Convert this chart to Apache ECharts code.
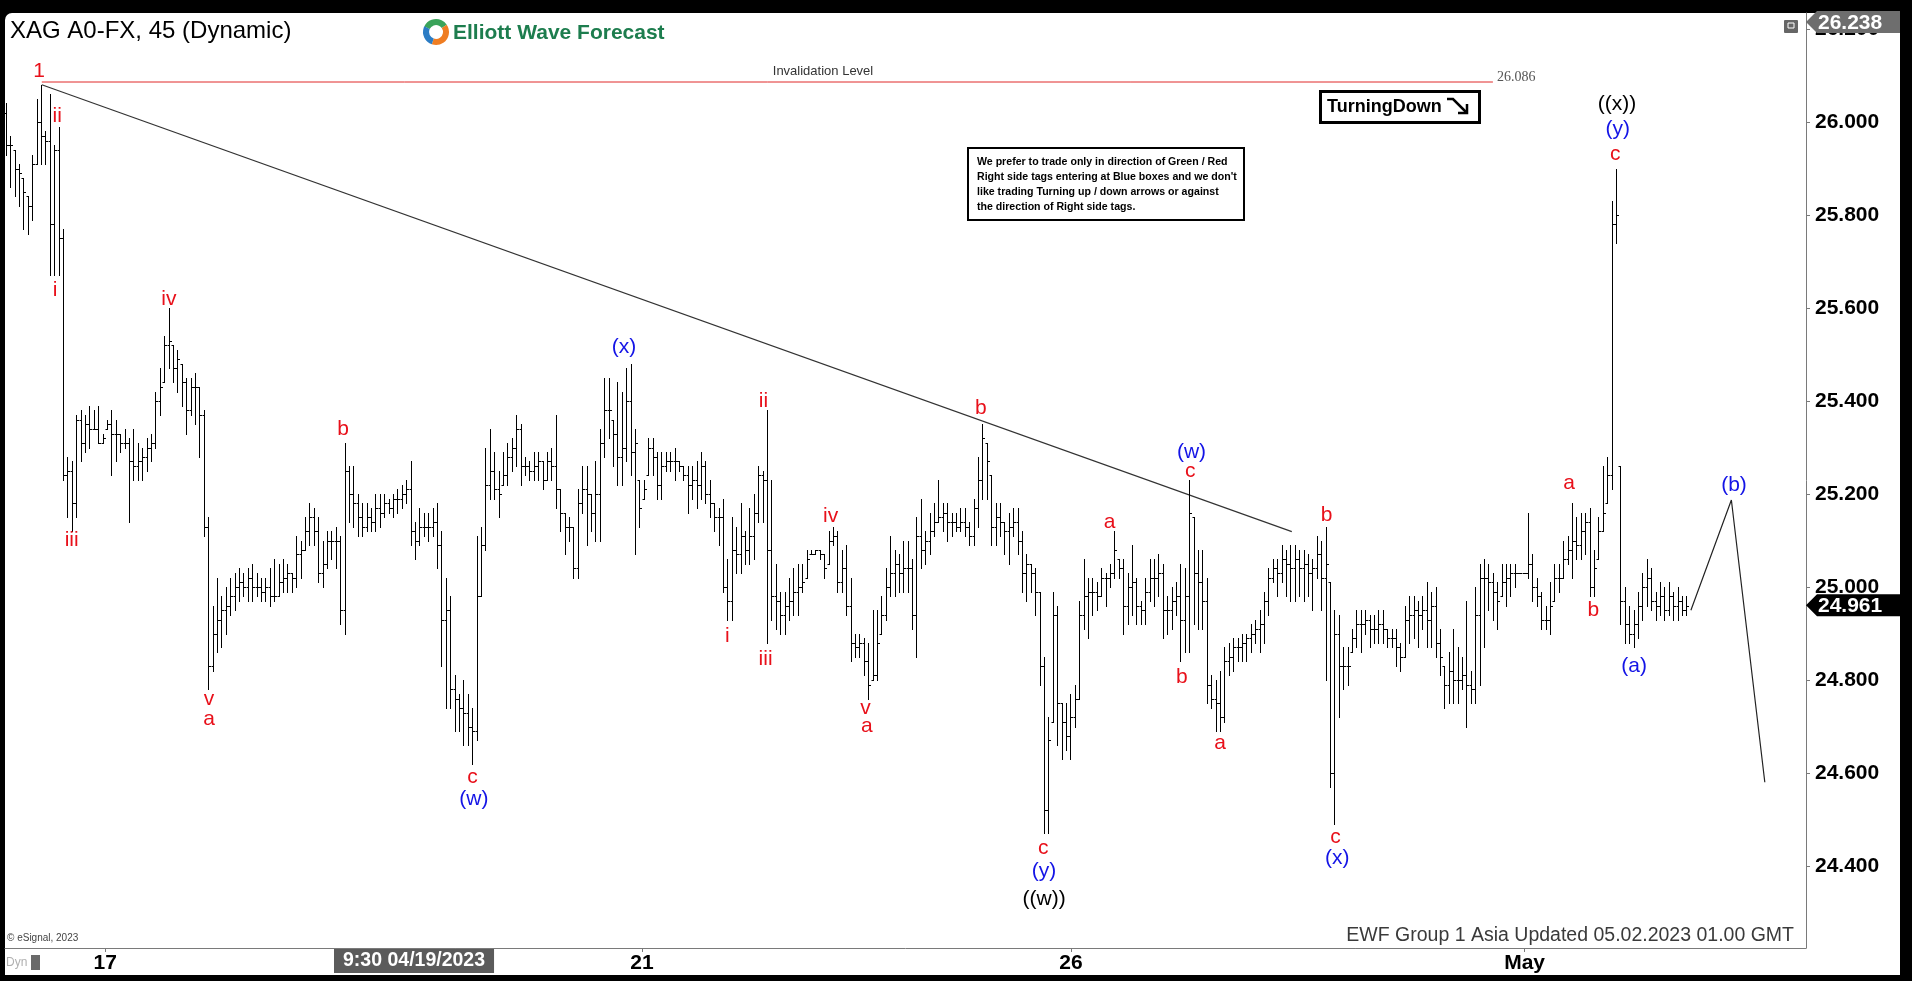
<!DOCTYPE html>
<html><head><meta charset="utf-8">
<script src="https://cdn.jsdelivr.net/npm/echarts@6/dist/echarts.min.js"></script>
<style>html,body{margin:0;padding:0;background:#000;overflow:hidden}#c{width:1912px;height:981px}</style>
</head><body><div id="c"></div>
<script>
// ---- 45-minute OHLC bars (index 0..382) ----
const opens = [
26.02,25.95,25.94,25.90,25.88,25.84,25.82,25.91,26.00,25.97,
25.96,25.78,25.94,25.75,25.24,25.25,25.18,25.36,25.31,25.35,
25.34,25.34,25.31,25.34,25.35,25.33,25.33,25.31,25.31,25.27,
25.26,25.27,25.28,25.30,25.31,25.40,25.44,25.52,25.52,25.47,
25.48,25.44,25.38,25.43,25.43,25.37,25.13,
24.83,24.90,24.93,24.95,24.96,24.98,25.00,25.01,25.00,
25.02,25.00,25.00,24.99,25.00,24.98,24.98,25.01,25.02,25.03,
25.02,25.07,25.08,25.12,25.15,25.12,25.03,25.05,25.10,25.10,
25.10,24.95,25.25,25.20,25.18,25.15,25.13,25.15,25.14,25.17,
25.16,25.18,25.17,25.19,25.19,25.20,25.21,25.12,25.10,25.13,
25.13,25.13,25.14,25.09,24.93,24.95,24.78,24.76,24.74,24.73,
24.70,24.69,24.98,25.09,25.22,25.25,25.21,25.22,25.24,25.28,
25.30,25.34,25.26,25.26,25.25,25.26,25.27,25.23,25.27,25.26,
25.21,25.16,25.13,25.13,25.04,25.18,25.21,25.20,25.16,25.20,
25.31,25.38,25.36,25.33,25.28,25.30,25.40,25.29,25.23,25.19,
25.24,25.30,25.28,25.22,25.26,25.27,25.27,25.27,25.26,25.24,
25.22,25.23,25.22,25.26,25.20,25.18,25.15,25.15,25.00,24.97,
25.08,25.07,25.11,25.08,
25.11,25.16,25.24,25.23,25.08,24.98,24.97,24.94,24.96,24.97,
24.99,25.00,25.02,25.07,25.07,25.08,25.07,25.05,25.10,25.11,
25.01,25.04,24.96,24.88,24.87,24.88,24.84,24.80,24.81,24.90,
24.94,25.00,25.03,25.05,25.03,25.04,25.04,24.94,25.11,25.08,
25.10,25.12,25.14,25.15,25.16,25.14,25.14,25.13,
25.14,25.13,25.11,25.17,25.23,25.31,25.24,25.13,25.15,25.14,
25.12,25.13,25.14,25.10,25.03,25.05,25.03,24.99,24.83,24.52,
24.71,24.94,24.75,24.71,24.68,24.72,24.76,24.94,24.98,24.99,
24.99,24.98,25.02,25.02,25.03,25.06,25.04,24.96,25.00,25.01,
24.96,24.95,24.99,25.02,25.02,25.03,24.95,24.95,24.97,
24.98,24.93,24.98,25.15,25.03,25.01,24.97,24.79,24.76,24.75,
24.72,24.84,24.85,24.87,24.87,24.88,24.89,24.90,24.91,24.92,
24.97,25.02,25.04,25.03,25.06,25.05,25.04,25.06,25.04,25.05,
25.03,25.04,25.07,25.02,25.01,24.60,24.90,24.83,24.83,24.86,
24.89,24.92,24.92,24.93,24.91,24.91,24.92,24.91,24.89,24.89,
24.87,24.85,24.93,24.94,24.95,24.94,24.95,24.93,24.96,24.88,
24.83,24.79,24.82,24.80,24.80,24.81,24.79,24.78,24.94,25.02,
25.02,25.01,24.99,24.98,25.01,25.02,25.03,25.03,25.03,25.03,
25.05,25.00,24.98,24.93,24.93,24.97,25.02,25.02,25.06,25.08,
25.10,25.09,25.12,25.14,25.00,25.06,25.12,25.18,25.24,25.78,
25.26,24.97,24.92,24.90,24.92,24.96,25.00,25.02,24.97,24.96,24.98,24.95,24.98,24.96,24.97,24.95
];
const highs = [
26.04,25.97,25.94,25.91,25.88,25.84,25.93,26.05,26.08,25.98,
26.06,25.95,25.99,25.77,25.28,25.27,25.37,25.38,25.37,25.39,
25.38,25.39,25.33,25.36,25.38,25.36,25.33,25.34,25.32,25.34,
25.31,25.30,25.32,25.33,25.42,25.47,25.54,25.60,25.52,25.51,
25.48,25.45,25.45,25.46,25.43,25.38,25.15,
24.96,25.02,24.98,25.00,25.02,25.03,25.04,25.03,25.04,
25.05,25.03,25.02,25.02,25.04,25.06,25.05,25.06,25.05,25.03,
25.11,25.10,25.15,25.18,25.17,25.15,25.10,25.12,25.12,25.13,
25.11,25.31,25.26,25.26,25.20,25.18,25.18,25.17,25.20,25.20,
25.20,25.19,25.20,25.21,25.22,25.23,25.27,25.14,25.17,25.16,
25.16,25.17,25.18,25.12,25.02,24.98,24.81,24.77,24.80,24.77,
24.74,25.11,25.13,25.30,25.34,25.29,25.25,25.29,25.31,25.32,
25.37,25.35,25.28,25.27,25.29,25.29,25.27,25.29,25.30,25.37,
25.21,25.16,25.15,25.13,25.21,25.26,25.26,25.20,25.27,25.34,
25.45,25.45,25.36,25.44,25.42,25.47,25.48,25.34,25.23,25.23,
25.32,25.32,25.29,25.29,25.29,25.29,25.30,25.27,25.26,25.26,
25.26,25.27,25.29,25.27,25.23,25.18,25.17,25.19,25.06,25.15,
25.13,25.18,25.12,25.17,
25.20,25.26,25.25,25.38,25.23,25.05,24.99,24.99,25.02,25.04,
25.05,25.05,25.08,25.08,25.08,25.08,25.07,25.12,25.13,25.12,
25.08,25.09,25.02,24.90,24.90,24.89,24.88,24.95,24.95,24.98,
25.04,25.11,25.08,25.07,25.10,25.10,25.06,25.15,25.19,25.12,
25.16,25.18,25.23,25.18,25.18,25.16,25.16,25.17,
25.17,25.14,25.19,25.28,25.35,25.31,25.24,25.18,25.18,25.14,
25.16,25.17,25.17,25.12,25.07,25.05,25.04,24.99,24.85,24.72,
24.99,24.96,24.75,24.75,24.77,24.79,24.97,25.06,25.02,25.02,
25.01,25.04,25.03,25.05,25.12,25.06,25.06,25.03,25.09,25.02,
24.97,25.02,25.06,25.06,25.07,25.05,24.98,25.00,25.01,
25.05,25.04,25.23,25.15,25.08,25.08,25.02,24.81,24.80,24.82,
24.87,24.88,24.89,24.89,24.90,24.90,24.92,24.93,24.95,24.99,
25.04,25.06,25.06,25.09,25.08,25.09,25.09,25.08,25.08,25.07,
25.06,25.11,25.10,25.13,25.01,24.95,24.94,24.87,24.87,24.91,
24.95,24.95,24.95,24.94,24.94,24.95,24.95,24.91,24.91,24.91,
24.88,24.96,24.98,24.98,24.97,24.98,25.01,24.99,25.00,24.91,
24.83,24.86,24.91,24.87,24.85,24.97,24.82,25.00,25.05,25.06,
25.05,25.03,25.01,25.05,25.05,25.05,25.05,25.03,25.03,25.16,
25.07,25.02,24.99,24.96,25.01,25.05,25.05,25.10,25.11,25.18,
25.15,25.16,25.16,25.17,25.08,25.15,25.26,25.28,25.83,25.90,
25.26,25.00,24.96,24.95,24.99,25.03,25.06,25.04,24.99,25.01,25.00,25.01,24.99,25.00,24.98,24.98
];
const lows = [
25.93,25.86,25.84,25.82,25.77,25.76,25.79,25.91,25.91,25.91,
25.67,25.67,25.67,25.23,25.15,25.12,25.15,25.27,25.29,25.30,
25.34,25.31,25.31,25.34,25.24,25.27,25.29,25.30,25.14,25.23,
25.23,25.23,25.25,25.27,25.30,25.37,25.44,25.47,25.44,25.42,
25.39,25.33,25.37,25.35,25.28,25.11,24.78,
24.82,24.86,24.87,24.90,24.94,24.95,24.97,24.98,24.97,
24.97,24.98,24.97,24.97,24.96,24.97,24.98,24.99,24.99,24.99,
25.00,25.02,25.08,25.09,25.09,25.01,25.00,25.04,25.06,25.04,
24.92,24.90,25.14,25.13,25.11,25.11,25.12,25.12,25.12,25.13,
25.15,25.16,25.15,25.16,25.17,25.18,25.09,25.06,25.09,25.11,
25.10,25.11,25.04,24.83,24.74,24.74,24.69,24.69,24.66,24.66,
24.62,24.67,24.98,25.08,25.19,25.19,25.15,25.22,25.22,25.25,
25.26,25.22,25.24,25.23,25.23,25.23,25.21,25.23,25.23,25.17,
25.12,25.07,25.10,25.02,25.02,25.16,25.09,25.12,25.10,25.10,
25.28,25.32,25.26,25.22,25.22,25.27,25.24,25.07,25.13,25.19,
25.24,25.24,25.19,25.19,25.25,25.25,25.23,25.25,25.23,25.16,
25.19,25.17,25.19,25.18,25.15,25.12,25.09,24.99,24.93,24.93,
25.03,25.03,25.05,25.05,
25.06,25.14,25.14,24.88,24.93,24.91,24.90,24.90,24.93,24.94,
24.94,24.99,25.02,25.07,25.07,25.06,25.02,25.05,25.09,24.99,
24.99,24.94,24.84,24.85,24.85,24.81,24.76,24.80,24.80,24.90,
24.93,24.98,24.98,24.99,24.99,24.99,24.91,24.85,25.04,25.05,
25.07,25.11,25.14,25.12,25.10,25.11,25.12,25.12,
25.11,25.09,25.09,25.13,25.19,25.19,25.09,25.09,25.11,25.07,
25.05,25.11,25.07,24.99,24.97,24.99,24.94,24.79,24.47,24.47,
24.71,24.66,24.63,24.65,24.63,24.70,24.76,24.91,24.89,24.94,
24.95,24.98,24.96,25.00,25.02,25.02,24.90,24.92,24.94,24.92,
24.92,24.92,24.97,24.96,24.98,24.89,24.90,24.91,24.94,
24.84,24.86,24.86,24.92,24.91,24.91,24.75,24.74,24.69,24.69,
24.71,24.81,24.82,24.84,24.84,24.84,24.86,24.88,24.86,24.88,
24.94,25.01,24.98,25.01,24.98,24.97,24.97,24.98,24.97,24.98,
24.95,25.02,24.95,24.80,24.57,24.49,24.72,24.78,24.79,24.86,
24.87,24.86,24.90,24.87,24.88,24.88,24.88,24.87,24.87,24.83,
24.82,24.85,24.88,24.89,24.87,24.91,24.87,24.87,24.85,24.81,
24.74,24.75,24.75,24.75,24.78,24.70,24.75,24.75,24.79,24.87,
24.95,24.93,24.91,24.98,24.96,24.98,25.00,25.03,25.03,25.02,
24.97,24.96,24.91,24.91,24.90,24.97,24.99,25.02,25.05,25.02,
25.06,25.06,25.07,24.98,24.98,25.06,25.12,25.18,25.21,25.74,
24.92,24.88,24.88,24.87,24.89,24.93,24.96,24.95,24.93,24.94,24.93,24.94,24.93,24.93,24.94,24.94
];
const closes = [
25.95,25.95,25.90,25.89,25.85,25.82,25.91,26.00,25.97,25.96,
25.78,25.94,25.75,25.24,25.25,25.18,25.36,25.31,25.35,25.34,
25.34,25.31,25.32,25.35,25.33,25.33,25.31,25.31,25.27,25.26,
25.27,25.28,25.30,25.31,25.40,25.43,25.52,25.53,25.47,25.49,
25.44,25.38,25.43,25.43,25.37,25.13,24.83,
24.90,24.93,24.95,24.96,24.98,25.00,25.01,25.00,25.02,
25.00,25.00,24.99,25.00,24.98,24.98,25.01,25.02,25.03,25.02,
25.07,25.08,25.12,25.15,25.12,25.03,25.05,25.10,25.10,25.10,
24.95,25.25,25.20,25.18,25.15,25.13,25.15,25.14,25.17,25.16,
25.18,25.17,25.19,25.19,25.20,25.21,25.12,25.10,25.13,25.13,
25.13,25.14,25.09,24.93,24.95,24.78,24.76,24.74,24.73,24.70,
24.69,24.98,25.09,25.22,25.25,25.21,25.20,25.24,25.28,25.30,
25.34,25.26,25.26,25.25,25.26,25.27,25.23,25.27,25.26,25.21,
25.16,25.13,25.13,25.04,25.18,25.21,25.20,25.16,25.20,25.31,
25.38,25.38,25.33,25.28,25.30,25.40,25.29,25.31,25.17,25.21,
25.30,25.28,25.22,25.26,25.27,25.27,25.27,25.26,25.24,25.22,
25.23,25.22,25.26,25.20,25.18,25.15,25.15,25.00,24.97,25.08,
25.07,25.11,25.08,25.11,
25.16,25.24,25.23,25.08,24.98,24.97,24.94,24.96,24.97,24.99,
25.00,25.01,25.06,25.07,25.08,25.07,25.04,25.10,25.11,25.01,
25.04,24.96,24.88,24.87,24.88,24.84,24.79,24.81,24.88,24.94,
25.00,25.03,25.05,25.03,25.04,25.04,24.94,25.11,25.08,25.10,
25.12,25.14,25.15,25.16,25.14,25.14,25.13,25.14,
25.13,25.11,25.17,25.23,25.32,25.27,25.13,25.15,25.14,25.12,
25.13,25.14,25.10,25.03,25.05,25.03,24.99,24.83,24.52,24.67,
24.94,24.75,24.71,24.68,24.72,24.76,24.94,24.98,24.99,24.99,
24.98,25.02,25.02,25.03,25.08,25.04,24.96,25.00,25.01,24.96,
24.95,24.99,25.02,25.02,25.03,24.95,24.95,24.97,24.98,
24.93,24.98,25.16,25.03,25.01,24.97,24.79,24.76,24.75,24.72,
24.84,24.85,24.87,24.87,24.88,24.89,24.90,24.91,24.92,24.97,
25.02,25.04,25.03,25.06,25.05,25.04,25.06,25.04,25.05,25.03,
25.04,25.07,25.02,25.05,24.60,24.90,24.83,24.83,24.83,24.89,
24.92,24.92,24.93,24.91,24.91,24.92,24.91,24.89,24.89,24.87,
24.85,24.93,24.94,24.95,24.94,24.95,24.93,24.96,24.88,24.85,
24.79,24.82,24.80,24.80,24.81,24.79,24.78,24.94,25.02,25.02,
25.01,24.99,24.97,25.01,25.02,25.03,25.03,25.03,25.03,25.05,
25.00,24.98,24.93,24.93,24.96,25.02,25.02,25.06,25.08,25.10,
25.09,25.12,25.14,25.00,25.04,25.12,25.16,25.24,25.78,25.80,
24.97,24.92,24.90,24.92,24.96,25.00,25.02,24.97,24.96,24.98,24.95,24.98,24.96,24.97,24.95,24.96
];

// ---- axes ----
const yTickValues = [24.4, 24.6, 24.8, 25.0, 25.2, 25.4, 25.6, 25.8, 26.0, 26.2];
const xTickIndex = [22.6, 92.8, 144.6, 242.1, 345.2];
const xTickText = ['17', '9:30 04/19/2023', '21', '26', 'May'];

// ---- annotations ----
const invalidationLevel = 26.086;
const invalidationSpan = [8.2, 338.0];
const lastPrice = 24.961;
const highPrice = 26.238;
const trendLine = [[8.2, 26.08], [292.3, 25.119]];
const projection = [[383, 24.95], [392.2, 25.187], [399.8, 24.58]];
const waveLabels = [
[7.6,26.11,'1','r'],[11.7,26.013,'ii','r'],[11.2,25.639,'i','r'],[15.0,25.10,'iii','r'],
[37.1,25.619,'iv','r'],[46.2,24.759,'v','r'],[46.2,24.716,'a','r'],[76.7,25.34,'b','r'],
[106.1,24.591,'c','r'],[106.4,24.544,'(w)','b'],[140.5,25.515,'(x)','b'],[172.2,25.40,'ii','r'],
[164.0,24.894,'i','r'],[172.7,24.844,'iii','r'],[187.5,25.153,'iv','r'],[195.4,24.74,'v','r'],
[195.7,24.70,'a','r'],[221.6,25.384,'b','r'],[235.8,24.438,'c','r'],[236.0,24.389,'(y)','b'],
[236.0,24.329,'((w))','k'],[250.9,25.139,'a','r'],[269.5,25.289,'(w)','b'],[269.2,25.248,'c','r'],
[267.3,24.806,'b','r'],[276.0,24.664,'a','r'],[300.2,25.155,'b','r'],[302.2,24.463,'c','r'],
[302.6,24.417,'(x)','b'],[355.3,25.224,'a','r'],[360.8,24.95,'b','r'],[365.8,25.931,'c','r'],
[366.4,25.985,'(y)','b'],[366.2,26.039,'((x))','k'],[370.1,24.83,'(a)','b'],[392.8,25.219,'(b)','b']
];
const labelColors = {r:'#e8101a', b:'#1414e6', k:'#000000'};

// ---- build ----
const bars = opens.map((o, i) => [i, o, highs[i], lows[i], closes[i]]);
const FONT = "'Liberation Sans', Arial, sans-serif";
const NARROW = "'Liberation Sans Narrow', 'Arial Narrow', 'Liberation Sans', sans-serif";

const chart = echarts.init(document.getElementById('c'), null, {renderer: 'canvas'});

function staticGraphics() {
  return [
    {type:'rect', z:-100, silent:true, shape:{x:5, y:13, width:1895, height:962, r:[7,7,0,0]}, style:{fill:'#ffffff'}},
    {type:'text', z:50, x:10, y:31, style:{text:'XAG A0-FX, 45 (Dynamic)', font:'24px ' + FONT, fill:'#000', verticalAlign:'middle'}},
    {type:'arc', z:50, shape:{cx:436, cy:32, r:10, startAngle:-2.7, endAngle:-0.6}, style:{stroke:'#3aa35a', lineWidth:6, fill:null}},
    {type:'arc', z:50, shape:{cx:436, cy:32, r:10, startAngle:-0.6, endAngle:1.9}, style:{stroke:'#ef7d22', lineWidth:6, fill:null}},
    {type:'arc', z:50, shape:{cx:436, cy:32, r:10, startAngle:1.9, endAngle:3.6}, style:{stroke:'#2b7cc4', lineWidth:6, fill:null}},
    {type:'text', z:50, x:453, y:33, style:{text:'Elliott Wave Forecast', font:'bold 21px ' + FONT, fill:'#1d7d4e', verticalAlign:'middle'}},
    {type:'text', z:50, x:823, y:71, style:{text:'Invalidation Level', font:'13px ' + FONT, fill:'#333', align:'center', verticalAlign:'middle'}},
    {type:'text', z:50, x:1497, y:77, style:{text:'26.086', font:"14px 'Liberation Serif', 'Times New Roman', serif", fill:'#555', verticalAlign:'middle'}},
    {type:'rect', z:50, shape:{x:1320.5, y:91.5, width:159, height:31}, style:{fill:'#fff', stroke:'#000', lineWidth:3}},
    {type:'text', z:51, x:1327, y:107, style:{text:'TurningDown', font:'bold 18px ' + FONT, fill:'#000', verticalAlign:'middle'}},
    {type:'polyline', z:51, shape:{points:[[1447,99],[1453,99],[1466,112]]}, style:{stroke:'#000', lineWidth:2.5, fill:null}},
    {type:'polyline', z:51, shape:{points:[[1458,113],[1467,113],[1467,104]]}, style:{stroke:'#000', lineWidth:2.5, fill:null}},
    {type:'rect', z:50, shape:{x:968, y:148, width:276, height:72}, style:{fill:'#fff', stroke:'#000', lineWidth:2}},
    {type:'text', z:51, x:977, y:155, style:{text:"We prefer to trade only in direction of Green / Red\nRight side tags entering at Blue boxes and we don't\nlike trading Turning up / down arrows or against\nthe direction of Right side tags.", font:'bold 10.6px ' + FONT, fill:'#000', lineHeight:15}},
    {type:'rect', z:50, shape:{x:1784, y:20, width:14, height:13, r:1}, style:{fill:'#666'}},
    {type:'rect', z:51, shape:{x:1788, y:23, width:6, height:5}, style:{fill:null, stroke:'#fff', lineWidth:1}},
    {type:'text', z:50, x:7, y:938, style:{text:'\u00a9 eSignal, 2023', font:'10px ' + NARROW, fill:'#444', verticalAlign:'middle'}},
    {type:'text', z:50, x:1794, y:936, style:{text:'EWF Group 1 Asia Updated 05.02.2023 01.00 GMT', font:'19.5px ' + NARROW, fill:'#3a3a3a', align:'right', verticalAlign:'middle', textShadowColor:'#aaaaaa', textShadowOffsetX:1, textShadowOffsetY:1, textShadowBlur:0}},
    {type:'text', z:50, x:6, y:963, style:{text:'Dyn', font:'12px ' + NARROW, fill:'#b0b0b0', verticalAlign:'middle'}},
    {type:'rect', z:50, shape:{x:31, y:955, width:9, height:15}, style:{fill:'#6a6a6a'}}
  ];
}

const option = {
  backgroundColor: '#000',
  animation: false,
  grid: {left: 5, right: 106, top: 13, bottom: 33, containLabel: false},
  xAxis: {
    type: 'value', min: -0.16, max: 409.16,
    axisLine: {show: true, onZero: false, lineStyle: {color: '#7a7a7a', width: 1}},
    axisTick: {show: true, customValues: xTickIndex, length: 4, lineStyle: {color: '#7a7a7a'}},
    axisLabel: {
      customValues: xTickIndex, margin: 3, color: '#000', fontFamily: NARROW, fontWeight: 'bold', fontSize: 21, lineHeight: 24,
      formatter: function (v) {
        const k = xTickIndex.findIndex(t => Math.abs(t - v) < 1e-6);
        if (k < 0) return '';
        return k === 1 ? '{hl|' + xTickText[k] + '}' : xTickText[k];
      },
      rich: {hl: {backgroundColor: '#5b5b5b', color: '#fff', padding: [2, 9, 2, 9], fontFamily: NARROW, fontWeight: 'bold', fontSize: 19.5, lineHeight: 20}}
    },
    splitLine: {show: false}
  },
  yAxis: {
    type: 'value', position: 'right',
    min: 26 - (948 - 122) / 465, max: 26 + (122 - 13) / 465,
    axisLine: {show: true, onZero: false, lineStyle: {color: '#7a7a7a', width: 1}},
    axisTick: {show: true, customValues: yTickValues, length: 4, lineStyle: {color: '#7a7a7a'}},
    axisLabel: {customValues: yTickValues, margin: 9, color: '#000', fontFamily: FONT, fontWeight: 'bold', fontSize: 21,
      formatter: v => v.toFixed(3)},
    splitLine: {show: false}
  },
  series: [
    {
      type: 'custom', name: 'XAG', data: bars, z: 5,
      encode: {x: 0, y: [1, 2, 3, 4]},
      renderItem: function (params, api) {
        const i = api.value(0);
        const pO = api.coord([i, api.value(1)]);
        const pH = api.coord([i, api.value(2)]);
        const pL = api.coord([i, api.value(3)]);
        const pC = api.coord([i, api.value(4)]);
        const x = Math.round(pH[0]) + 0.5;
        const yo = Math.round(pO[1]) + 0.5, yc = Math.round(pC[1]) + 0.5;
        const st = {stroke: '#000', lineWidth: 1};
        return {type: 'group', children: [
          {type: 'line', shape: {x1: x, y1: Math.round(pH[1]), x2: x, y2: Math.round(pL[1]) + 1}, style: st},
          {type: 'line', shape: {x1: x - 2, y1: yo, x2: x, y2: yo}, style: st},
          {type: 'line', shape: {x1: x, y1: yc, x2: x + 2.5, y2: yc}, style: st}
        ]};
      }
    },
    {
      type: 'line', name: 'invalidation', z: 4, symbol: 'none', silent: true,
      data: [[invalidationSpan[0], invalidationLevel], [invalidationSpan[1], invalidationLevel]],
      lineStyle: {color: '#e02828', width: 1}
    },
    {
      type: 'line', name: 'trend', z: 4, symbol: 'none', silent: true,
      data: trendLine, lineStyle: {color: '#333', width: 1.2}
    },
    {
      type: 'line', name: 'projection', z: 4, symbol: 'none', silent: true,
      data: projection, lineStyle: {color: '#222', width: 1.2}
    },
    {
      type: 'custom', name: 'waves', z: 10, silent: true,
      data: waveLabels,
      encode: {x: 0, y: 1},
      renderItem: function (params, api) {
        const d = waveLabels[params.dataIndex];
        const p = api.coord([d[0], d[1]]);
        return {type: 'text', x: p[0], y: p[1], style: {text: d[2], font: '21px ' + FONT, fill: labelColors[d[3]], align: 'center', verticalAlign: 'middle'}};
      }
    }
  ],
  graphic: staticGraphics()
};
chart.setOption(option);

function priceTag(yc, text, color) {
  const h = 11;
  return [
    {type: 'polygon', z: 60, shape: {points: [[1806, yc], [1817, yc - h], [1900, yc - h], [1900, yc + h], [1817, yc + h]]}, style: {fill: color}},
    {type: 'text', z: 61, x: 1818, y: yc + 1, style: {text: text, font: 'bold 21px ' + FONT, fill: '#fff', verticalAlign: 'middle'}}
  ];
}
const yLast = chart.convertToPixel({gridIndex: 0}, [0, lastPrice])[1];
const yHigh = Math.max(chart.convertToPixel({gridIndex: 0}, [0, highPrice])[1], 22);
const g = staticGraphics()
  .concat(priceTag(yHigh, highPrice.toFixed(3), '#6e6e6e'))
  .concat(priceTag(yLast, lastPrice.toFixed(3), '#000'));
chart.setOption({graphic: g}, {replaceMerge: ['graphic']});
</script>
</body></html>
